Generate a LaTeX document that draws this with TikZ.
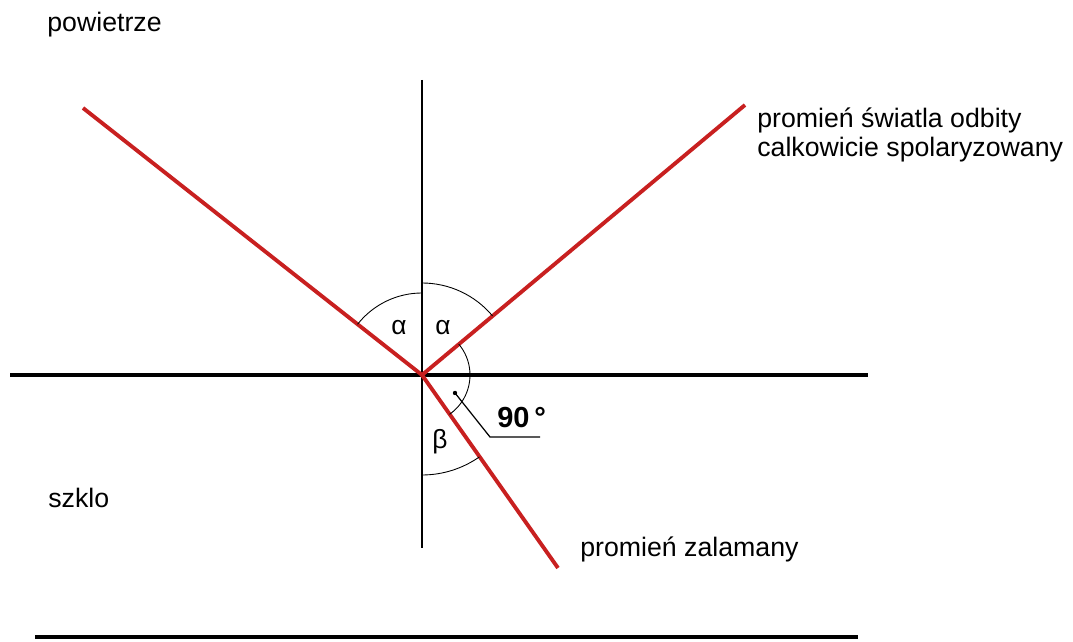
\documentclass[tikz,border=0pt]{standalone}
\usepackage{fontspec}
\setmainfont{Liberation Sans}
\definecolor{rayred}{RGB}{200,32,32}
\tikzset{
	ray/.style={draw=rayred, line width=2.2pt},
	surface/.style={draw=black, line width=2.4pt},
	normalline/.style={draw=black, line width=0.6pt},
	anglearc/.style={draw=black, line width=0.5pt},
	txt/.style={inner sep=0pt, anchor=base west, font=\fontsize{15.2}{17}\selectfont},
	greek/.style={inner sep=0pt, font=\fontsize{15}{17}\selectfont}
}
\begin{document}
\begin{tikzpicture}[x=0.02cm, y=0.02cm]
		\useasboundingbox (0,0) rectangle (1073,642);

		% Powierzchnia i normalna
		\coordinate (O) at (422,267);
		\coordinate (nt) at (422,562);
		\coordinate (nb) at (422,94);
		\coordinate (sl) at (10,267);
		\coordinate (sr) at (868,267);
		\coordinate (bl) at (35,5);
		\coordinate (br) at (858,5);

		\draw[surface] (sl) -- (sr);
		\draw[surface] (bl) -- (br);
		\draw[normalline] (nt) -- (nb);

		% Promienie
		\coordinate (inc) at (83,534);
		\coordinate (refl) at (745,537);
		\coordinate (refr) at (558,74);

		\draw[ray] (inc) -- (O);
		\draw[ray] (O) -- (refl);
		\draw[ray] (O) -- (refr);

		% Katy
		\draw[anglearc] ([shift={(90:82)}]O) arc[start angle=90, end angle=141.8, radius=82];
		\draw[anglearc] ([shift={(40:92)}]O) arc[start angle=40, end angle=90, radius=92];
		\draw[anglearc] ([shift={(-55:48)}]O) arc[start angle=-55, end angle=40, radius=48];
		\draw[anglearc] ([shift={(-90:100)}]O) arc[start angle=-90, end angle=-55, radius=100];

		\node[greek] (a1) at (399,314){α};
		\node[greek] (a2) at (443,314){α};
		\node[greek] (b1) at (440,200){β};

		\coordinate (dot) at (455,249);
		\coordinate (knee) at (490,205);
		\coordinate (lend) at (540,205);
		\fill (dot) circle (2.2);
		\draw[anglearc, line width=0.7pt] (dot) -- (knee) -- (lend);
		\node[txt, font=\fontsize{16.5}{19}\selectfont] (deg) at (497,214){\textbf{90\,°}};

		% Opisy
		\node[txt] (air) at (47,610){powietrze};
		\node[txt] (glass) at (48,134){szklo};
		\node[txt, align=left] (odb) at (757,485){promień światla odbity\\calkowicie spolaryzowany};
		\node[txt] (zal) at (580,85){promień zalamany};
	\end{tikzpicture}
\end{document}
